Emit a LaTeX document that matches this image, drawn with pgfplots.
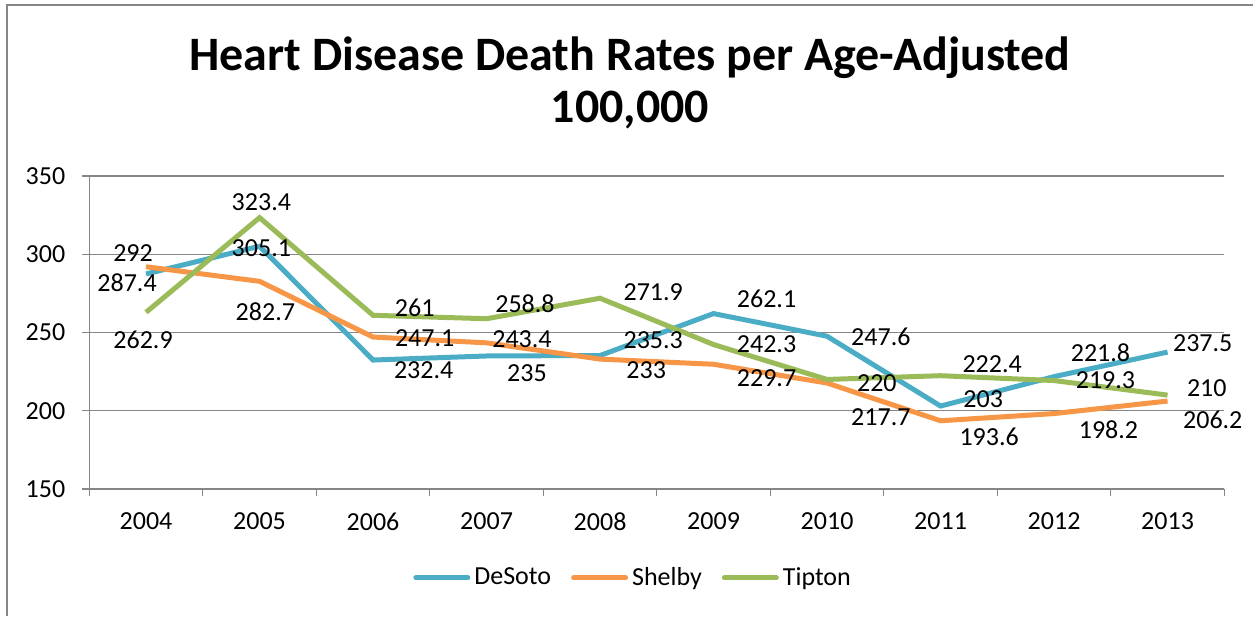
\documentclass[border=0pt]{standalone}
\usepackage{pgfplots}
\pgfplotsset{compat=1.18}
\usepackage{pgfplotstable}
\usepackage{fontspec}
\setmainfont{Carlito}
\definecolor{cDe}{HTML}{4BACC6}
\definecolor{cSh}{HTML}{F79646}
\definecolor{cTi}{HTML}{9BBB59}
\definecolor{cGrid}{HTML}{868686}
\pgfplotstableread{
x y dx dy
0 287.4 -9.5 -4.5
1 305.1 0.9 -1
2 232.4 25.3 -5
3 235 20.2 -8.5
4 235.3 26.6 7.5
5 262.1 26.5 7.5
6 247.6 26.9 -0.5
7 203 21.3 3.5
8 221.8 23.2 12
9 237.5 17.6 4.5
}\desoto
\pgfplotstableread{
x y dx dy
0 292 -6.5 7
1 282.7 2.9 -15
2 247.1 25.8 -0.5
3 243.4 17.7 2
4 233 23.1 -5.5
5 229.7 26.5 -7
6 217.7 26.9 -17
7 193.6 24.3 -8
8 198.2 27.2 -8
9 206.2 22.6 -9.5
}\shelby
\pgfplotstableread{
x y dx dy
0 262.9 -1.5 -14
1 323.4 0.9 7.5
2 261 20.8 3.5
3 258.8 19.2 7.5
4 271.9 26.6 3.25
5 242.3 26.5 0
6 220 24.9 -2
7 222.4 25.8 6
8 219.3 25.7 0
9 210 19.6 3.5
}\tipton
\pgfplotsset{
  lbl/.style={
    nodes near coords,
    visualization depends on={\thisrow{dx}\as\myDx},
    visualization depends on={\thisrow{dy}\as\myDy},
    every node near coord/.append style={anchor=center, xshift=\myDx pt, yshift=\myDy pt, font=\fontsize{13}{15}\selectfont, text=black},
  }
}
\begin{document}
\begin{tikzpicture}
\path[use as bounding box] (0,0) rectangle (626.5pt,308pt);
\draw[cGrid, line width=1pt] (3.25pt,0) -- (3.25pt,305.25pt) -- (626.5pt,305.25pt);
\node[font=\fontsize{24}{28}\selectfont\bfseries] at (315pt,279pt) {Heart Disease Death Rates per Age-Adjusted};
\node[font=\fontsize{24}{28}\selectfont\bfseries] at (315pt,253pt) {100,000};
\begin{axis}[
  at={(44.65pt,63.5pt)}, anchor=south west,
  scale only axis, width=567.5pt, height=156.5pt,
  xmin=-0.5, xmax=9.5, ymin=150, ymax=350,
  ytick={150,200,250,300,350},
  xtick={0,...,9},
  xticklabels={2004,2005,2006,2007,2008,2009,2010,2011,2012,2013},
  xtick style={draw=none},
  extra x ticks={-0.5,0.5,...,9.5},
  extra x tick labels={},
  extra x tick style={grid=none, xtick style={draw=cGrid, line width=0.65pt}},
  tick align=outside, major tick length=3.5pt,
  ytick style={draw=cGrid, line width=0.65pt},
  ymajorgrids, grid style={cGrid, line width=0.65pt},
  axis x line*=bottom, axis y line*=left,
  axis line style={cGrid, line width=0.65pt},
  tick label style={font=\fontsize{13}{15}\selectfont},
  /pgf/number format/assume math mode=true,
  yticklabel style={xshift=-5pt},
  xticklabel style={yshift=-5pt},
  clip=false,
  legend style={at={(0.48,-0.284)}, anchor=center, draw=none, fill=none,
    legend columns=3, font=\fontsize{13}{15}\selectfont,
    /tikz/every even column/.append style={column sep=8pt}},
  legend image code/.code={\draw[#1, line width=2.5pt, line cap=round] (0pt,0pt) -- (26pt,0pt);},
]
\addplot[cDe, line width=2.5pt, mark=none, lbl] table[x=x,y=y] {\desoto};
\addlegendentry{DeSoto}
\addplot[cSh, line width=2.5pt, mark=none, lbl] table[x=x,y=y] {\shelby};
\addlegendentry{Shelby}
\addplot[cTi, line width=2.5pt, mark=none, lbl] table[x=x,y=y] {\tipton};
\addlegendentry{Tipton}
\end{axis}
\end{tikzpicture}
\end{document}
